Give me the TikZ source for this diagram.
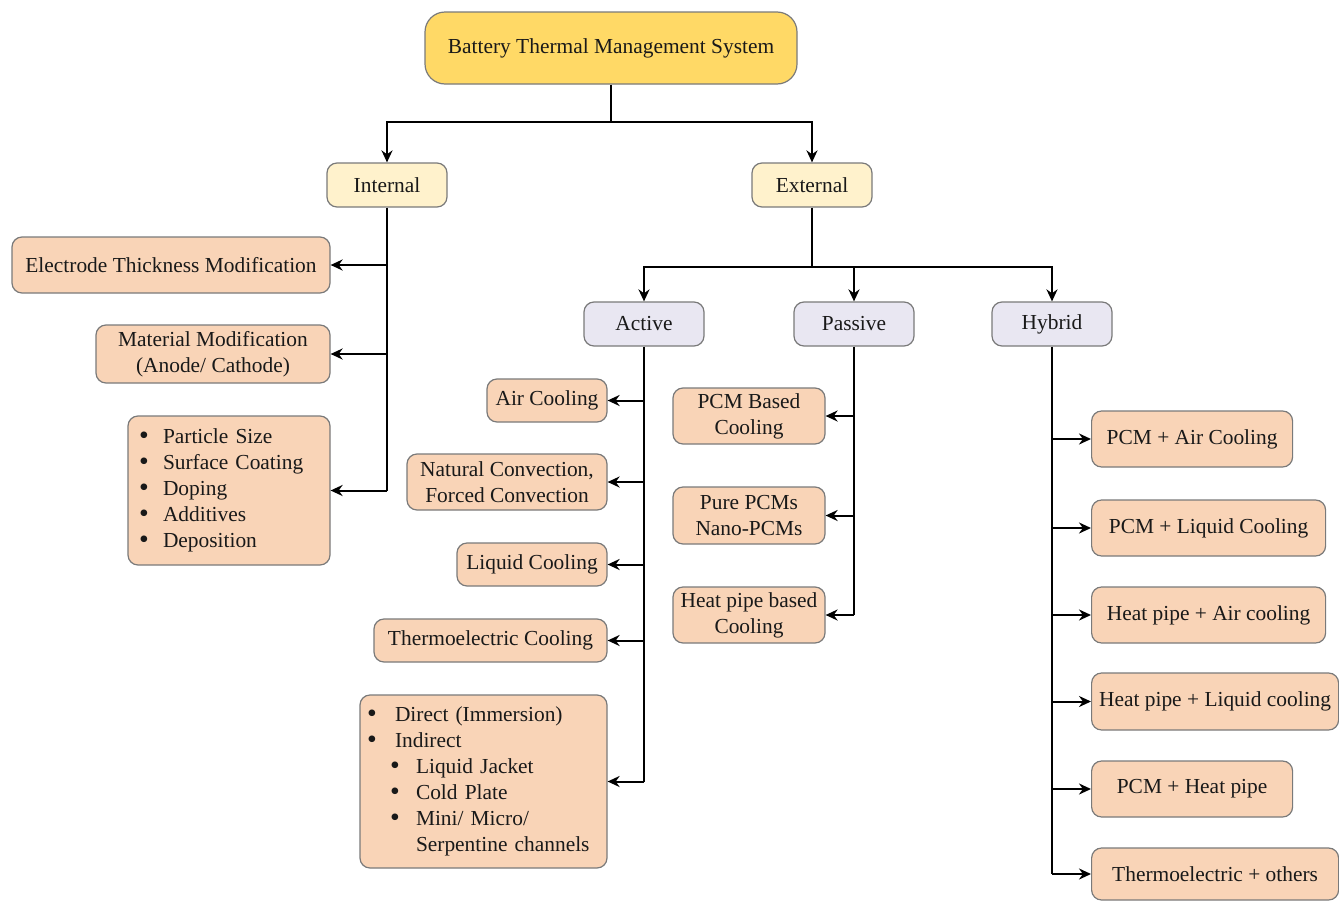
\documentclass[tikz,border=0pt]{standalone}
\usepackage{fontspec}
\setmainfont{Liberation Serif}
\usetikzlibrary{arrows.meta}
\definecolor{peach}{HTML}{F9D4B7}
\definecolor{lav}{HTML}{E9E7F2}
\definecolor{paleyel}{HTML}{FFF2CC}
\definecolor{gold}{HTML}{FFD966}
\definecolor{bgray}{HTML}{7A7A7A}
\tikzset{
  box/.style={draw=bgray, line width=0.6pt, rounded corners=5pt, align=center, inner sep=0pt,
    font=\fontsize{10.7}{13}\selectfont, text=black!90},
  leaf/.style={box, fill=peach},
  cat/.style={box, fill=lav, minimum width=60pt, minimum height=22pt},
  toplvl/.style={box, fill=paleyel, minimum width=60pt, minimum height=22pt},
  arr/.style={-{Stealth[length=6pt,width=5.5pt]}, line width=1pt},
  trunk/.style={line width=1pt},
  bl/.style={leaf, align=left}
}
\newcommand{\bul}[1]{\makebox[#1][l]{\smash{\raisebox{-0.1ex}{\scalebox{1.3}{\textbullet}}}}}
\begin{document}
\begin{tikzpicture}[x=0.5pt,y=-0.5pt]
\useasboundingbox (0,0) rectangle (1339,900);

% root
\node[box, fill=gold, rounded corners=10pt, minimum width=186pt, minimum height=36pt] (root) at (611,48) {Battery Thermal Management System};

\node[toplvl] (int) at (387,185) {Internal};
\node[toplvl] (ext) at (812,185) {External};

\coordinate (j1) at (611,122);
\draw[trunk] (root.south) -- (j1);
\draw[arr] (j1) -| (int.north);
\draw[arr] (j1) -| (ext.north);

% internal leaves
\node[leaf, minimum width=159pt, minimum height=28pt] (elec) at (171,265) {Electrode Thickness Modification};
\node[leaf, minimum width=117pt, minimum height=29pt] (mat) at (213,354) {Material Modification\\(Anode/ Cathode)};
\node[bl, minimum width=101pt, minimum height=74.5pt, text width=90pt, inner xsep=5.5pt] (part) at (229,490.5)
  {\bul{12pt}Particle Size\\\bul{12pt}Surface Coating\\\bul{12pt}Doping\\\bul{12pt}Additives\\\bul{12pt}Deposition};

\draw[trunk] (int.south) -- (int.south |- part.east);
\draw[arr] (int.south |- elec.east) -- (elec.east);
\draw[arr] (int.south |- mat.east) -- (mat.east);
\draw[arr] (int.south |- part.east) -- (part.east);

% external categories
\node[cat] (act) at (644,324) {Active};
\node[cat] (pas) at (854,324) {Passive};
\node[cat] (hyb) at (1052,324) {Hybrid};

\coordinate (j2) at (812,267);
\draw[trunk] (ext.south) -- (j2);
\draw[arr] (j2) -| (act.north);
\draw[arr] (j2) -| (pas.north);
\draw[arr] (j2) -| (hyb.north);

% active leaves
\node[leaf, minimum width=60pt, minimum height=21.5pt] (air) at (547,400.5) {Air Cooling};
\node[leaf, minimum width=100pt, minimum height=28pt] (nat) at (507,482) {Natural Convection,\\Forced Convection};
\node[leaf, minimum width=75pt, minimum height=21.5pt] (liq) at (532,564.5) {Liquid Cooling};
\node[leaf, minimum width=116.5pt, minimum height=21.5pt] (thc) at (490.5,640.5) {Thermoelectric Cooling};
\node[bl, minimum width=123.5pt, minimum height=86.5pt, text width=116.5pt, inner xsep=3.5pt] (dir) at (483.5,781.5)
  {\bul{14pt}Direct (Immersion)\\
   \bul{14pt}Indirect\\
   \hspace*{11.5pt}\bul{13pt}Liquid Jacket\\
   \hspace*{11.5pt}\bul{13pt}Cold Plate\\
   \hspace*{11.5pt}\bul{13pt}Mini/ Micro/\\
   \hspace*{24.5pt}Serpentine channels};

\draw[trunk] (act.south) -- (act.south |- dir.east);
\foreach \n in {air,nat,liq,thc,dir}
  \draw[arr] (act.south |- \n.east) -- (\n.east);

% passive leaves
\node[leaf, minimum width=76pt, minimum height=28pt] (pcmb) at (749,416) {PCM Based\\Cooling};
\node[leaf, minimum width=76pt, minimum height=28.5pt] (pure) at (749,515.5) {Pure PCMs\\Nano-PCMs};
\node[leaf, minimum width=76pt, minimum height=28pt] (hpb) at (749,615) {Heat pipe based\\Cooling};

\draw[trunk] (pas.south) -- (pas.south |- hpb.east);
\foreach \n in {pcmb,pure,hpb}
  \draw[arr] (pas.south |- \n.east) -- (\n.east);

% hybrid leaves
\node[leaf, minimum width=100.5pt, minimum height=28pt, anchor=west] (h1) at (1091,439) {PCM + Air Cooling};
\node[leaf, minimum width=117pt, minimum height=28pt, anchor=west] (h2) at (1091,528) {PCM + Liquid Cooling};
\node[leaf, minimum width=117pt, minimum height=28pt, anchor=west] (h3) at (1091,615) {Heat pipe + Air cooling};
\node[leaf, minimum width=123.5pt, minimum height=28.5pt, anchor=west] (h4) at (1091,701.5) {Heat pipe + Liquid cooling};
\node[leaf, minimum width=100.5pt, minimum height=28pt, anchor=west] (h5) at (1091,789) {PCM + Heat pipe};
\node[leaf, minimum width=123.5pt, minimum height=26pt, anchor=west] (h6) at (1091,874) {Thermoelectric + others};

\draw[trunk] (hyb.south) -- (hyb.south |- h6.west);
\foreach \n in {h1,h2,h3,h4,h5,h6}
  \draw[arr] (hyb.south |- \n.west) -- (\n.west);
\end{tikzpicture}
\end{document}
